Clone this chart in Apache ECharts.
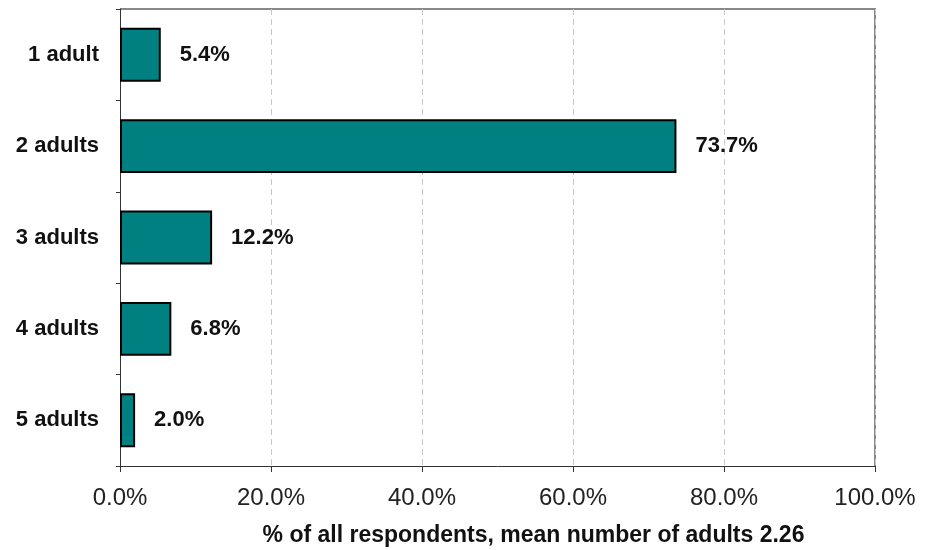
<!DOCTYPE html>
<html>
<head>
<meta charset="utf-8">
<script src="https://cdn.jsdelivr.net/npm/echarts@6/dist/echarts.min.js"></script>
<style>html,body{margin:0;padding:0;background:#fff;}#c{width:930px;height:550px;}</style>
</head>
<body>
<div id="c"></div>
<script>
const categories = ['1 adult', '2 adults', '3 adults', '4 adults', '5 adults'];
const values = [5.4, 73.7, 12.2, 6.8, 2.0];
const xTicks = [0, 20, 40, 60, 80, 100];
const axisTitle = '% of all respondents, mean number of adults 2.26';

const chart = echarts.init(document.getElementById('c'));
chart.setOption({
  animation: false,
  textStyle: { fontFamily: 'Liberation Sans, Arial, sans-serif' },
  grid: { left: 120, right: 55, top: 9, bottom: 84, containLabel: false, outerBoundsMode: 'none' },
  xAxis: {
    type: 'value', min: xTicks[0], max: xTicks[xTicks.length - 1], interval: 20,
    name: axisTitle, nameLocation: 'middle', nameGap: 58,
    nameTextStyle: { fontWeight: 'bold', fontSize: 23, color: '#111', padding: [0, 0, 0, 72] },
    axisLine: { show: true, lineStyle: { color: '#333', width: 1 } },
    axisTick: { show: true, length: 6, lineStyle: { color: '#333' } },
    axisLabel: { fontSize: 24, color: '#222', margin: 20, formatter: v => v.toFixed(1) + '%' },
    splitLine: { show: true, lineStyle: { color: '#c8c8c8', type: [6, 4], width: 1 } }
  },
  yAxis: {
    type: 'category', data: categories, inverse: true,
    axisLine: { show: true, lineStyle: { color: '#333', width: 1 } },
    axisTick: { show: true, length: 4, lineStyle: { color: '#333' } },
    axisLabel: { fontSize: 22, fontWeight: 'bold', color: '#111', margin: 21 },
    splitLine: { show: false }
  },
  series: [{
    type: 'bar', data: values, barCategoryGap: '41%',
    itemStyle: { color: '#008080', borderColor: '#000', borderWidth: 2 },
    label: { show: true, position: 'right', distance: 19, fontSize: 22, fontWeight: 'bold', color: '#111',
      formatter: p => p.value.toFixed(1) + '%' }
  }],
  graphic: [{
    type: 'polyline', silent: true,
    shape: { points: [[120, 9], [875, 9], [875, 466]] },
    style: { stroke: '#888', lineWidth: 2, fill: null }
  }]
});
</script>
</body>
</html>
